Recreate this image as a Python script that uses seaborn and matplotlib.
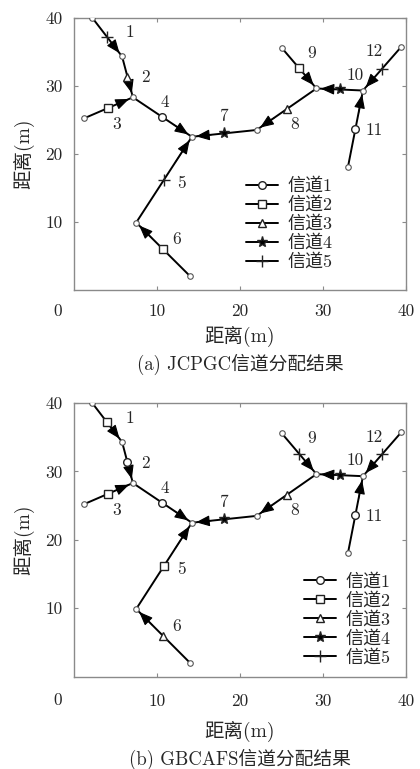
import numpy as np
import pandas as pd
import matplotlib
matplotlib.use("Agg")
import matplotlib.pyplot as plt
import matplotlib.transforms as mtransforms
from matplotlib.lines import Line2D
import seaborn as sns

# node coordinates (m)
node_x = [2.2, 5.8, 7.1, 1.2, 14.2, 7.5, 14.0, 22.0, 29.2, 25.0, 34.8, 33.0, 39.4]
node_y = [40.0, 34.3, 28.3, 25.2, 22.5, 9.9, 2.0, 23.5, 29.6, 35.6, 29.3, 18.1, 35.7]

# links 1..12 (source node -> destination node)
link_id = list(range(1, 13))
link_src = [0, 1, 3, 2, 5, 6, 7, 8, 9, 10, 11, 12]
link_dst = [1, 2, 2, 4, 4, 5, 4, 7, 8, 8, 10, 10]

# channel assigned to each link
chan_a = [5, 3, 2, 1, 5, 2, 4, 3, 2, 4, 1, 5]
chan_b = [2, 1, 2, 1, 2, 3, 4, 3, 5, 4, 1, 5]

channel_names = ["信道1", "信道2", "信道3", "信道4", "信道5"]
captions = ["(a) JCPGC信道分配结果", "(b) GBCAFS信道分配结果"]

# where the link numbers are written
lab_x = [6.7, 8.6, 5.1, 11.0, 12.9, 12.4, 18.0, 26.6, 28.6, 33.8, 36.1, 36.1]
lab_y = [37.8, 31.2, 24.3, 27.5, 15.7, 7.4, 25.5, 24.3, 34.8, 31.6, 23.5, 35.0]

sns.set_style("ticks")
plt.rcParams["font.family"] = ["cmr10", "Noto Sans CJK SC"]
plt.rcParams["axes.formatter.use_mathtext"] = True

markers = {1: "o", 2: "s", 3: "^", 4: "*", 5: "+"}
msize = {1: 5.5, 2: 5.5, 3: 6, 4: 8, 5: 9}

fig = plt.figure(figsize=(4.2, 7.69), dpi=100)
ax_a = fig.add_axes([0.176, 0.623, 0.791, 0.354])
ax_b = fig.add_axes([0.176, 0.120, 0.791, 0.356])

seg_rows = []
for i, s, d in zip(link_id, link_src, link_dst):
    seg_rows.append({"link": i, "x": node_x[s], "y": node_y[s]})
    seg_rows.append({"link": i, "x": node_x[d], "y": node_y[d]})
segs = pd.DataFrame(seg_rows)

gray = "#8a8a8a"

panels = [
    # ax, channels, caption, legend anchor, x tick pad, xlabel pad, caption y
    (ax_a, chan_a, captions[0], (0.48, 0.46), 10, 5, -0.235),
    (ax_b, chan_b, captions[1], (0.655, 0.425), 12, 9, -0.262),
]

for ax, chans, cap, leg_xy, xpad, xlpad, cap_y in panels:
    sns.lineplot(data=segs, x="x", y="y", units="link", estimator=None,
                 sort=False, color="k", lw=1.4, ax=ax, legend=False, zorder=2)

    # nodes
    ax.plot(node_x, node_y, "o", ms=4, mfc="white", mec="#555555", mew=0.8,
            zorder=3, ls="none")

    # arrowheads at destination
    for s, d in zip(link_src, link_dst):
        x0, y0 = node_x[s], node_y[s]
        x1, y1 = node_x[d], node_y[d]
        ax.annotate("", xy=(x1, y1), xytext=(x1 - 0.3 * (x1 - x0), y1 - 0.3 * (y1 - y0)),
                    arrowprops=dict(arrowstyle="-|>,head_length=0.6,head_width=0.24",
                                    color="k", lw=0.8, mutation_scale=14,
                                    shrinkA=0, shrinkB=3), zorder=4)

    # channel markers at link midpoints
    mid = pd.DataFrame({
        "x": [(node_x[s] + node_x[d]) / 2 for s, d in zip(link_src, link_dst)],
        "y": [(node_y[s] + node_y[d]) / 2 for s, d in zip(link_src, link_dst)],
        "ch": chans,
    })
    for c in sorted(mid["ch"].unique()):
        sub = mid[mid["ch"] == c]
        filled = markers[c] in ("*", "+")
        ax.plot(sub["x"], sub["y"], ls="none", marker=markers[c], ms=msize[c],
                mfc="k" if filled else "white", mec="#222222", mew=1.0, zorder=5)

    for i, tx, ty in zip(link_id, lab_x, lab_y):
        ax.text(tx, ty, str(i), fontsize=12.5, ha="center", va="center", zorder=6)

    handles = [Line2D([0], [0], color="k", lw=1.4, marker=markers[c], ms=msize[c],
                      mfc="k" if markers[c] in ("*", "+") else "white",
                      mec="#222222", mew=1.0) for c in range(1, 6)]
    ax.legend(handles, channel_names, loc="upper left", bbox_to_anchor=leg_xy,
              frameon=False, fontsize=13, handlelength=1.75, labelspacing=0.12,
              handletextpad=0.55, borderpad=0.2)

    ax.set_xlim(0, 40)
    ax.set_ylim(0, 40)
    ax.set_xticks([10, 20, 30, 40])
    ax.set_xticklabels(["10", "20", "30", "40"])
    ax.set_yticks([10, 20, 30, 40])
    ax.set_yticklabels(["10", "20", "30", "40"])
    ax.tick_params(direction="in", length=3, color=gray, labelsize=12.5,
                   top=True, right=True, pad=8)
    ax.tick_params(axis="x", pad=xpad)
    for sp in ax.spines.values():
        sp.set_visible(True)
        sp.set_color(gray)
        sp.set_linewidth(1.0)

    trans = mtransforms.blended_transform_factory(ax.transData, ax.transAxes)
    ax.text(-1.9, -(xpad + 4) / 272.0, "0", transform=trans, ha="center", va="top",
            fontsize=12.5, clip_on=False)

    ax.set_xlabel("距离(m)", fontsize=14, labelpad=xlpad)
    ax.set_ylabel("距离(m)", fontsize=14, labelpad=8)
    ax.text(0.5, cap_y, cap, transform=ax.transAxes, ha="center", va="top",
            fontsize=13.5)

fig.savefig("out.png", dpi=100)
